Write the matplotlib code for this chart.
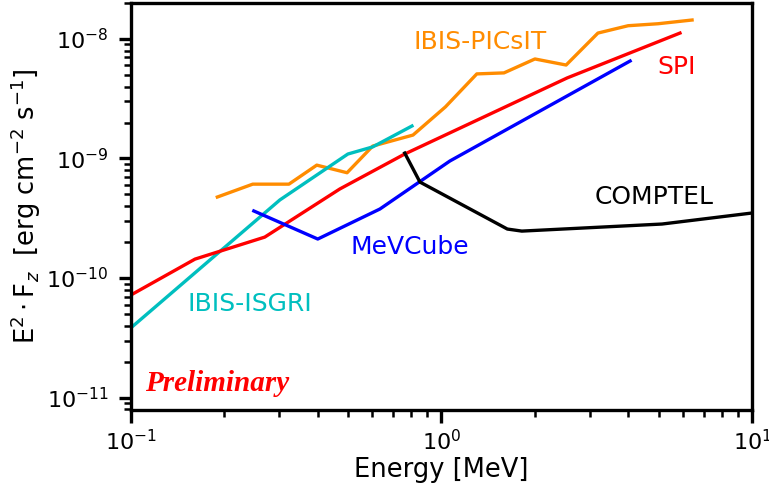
import matplotlib
matplotlib.use("Agg")
import matplotlib.pyplot as plt

# Sensitivity curves (energy in MeV, E^2 F in erg cm^-2 s^-1)
picsit_e = [0.19, 0.247, 0.323, 0.397, 0.497, 0.601, 0.81, 1.03, 1.30, 1.59, 2.0, 2.52, 3.19, 3.99, 4.98, 6.41]
picsit_f = [4.76e-10, 6.1e-10, 6.1e-10, 8.8e-10, 7.6e-10, 1.27e-9, 1.57e-9, 2.7e-9, 5.1e-9, 5.2e-9,
            6.8e-9, 6.05e-9, 1.12e-8, 1.29e-8, 1.34e-8, 1.44e-8]

isgri_e = [0.1, 0.302, 0.50, 0.601, 0.804]
isgri_f = [3.82e-11, 4.5e-10, 1.09e-9, 1.25e-9, 1.87e-9]

spi_e = [0.1, 0.161, 0.270, 0.471, 0.762, 2.54, 5.86]
spi_f = [7.2e-11, 1.44e-10, 2.2e-10, 5.56e-10, 1.09e-9, 4.72e-9, 1.12e-8]

mevcube_e = [0.249, 0.400, 0.634, 1.065, 4.05]
mevcube_f = [3.64e-10, 2.12e-10, 3.78e-10, 9.53e-10, 6.54e-9]

comptel_e = [0.762, 0.853, 1.63, 1.815, 5.13, 10.0]
comptel_f = [1.11e-9, 6.35e-10, 2.57e-10, 2.47e-10, 2.83e-10, 3.50e-10]

lw = 2.4
fs = 18

fig = plt.figure(figsize=(7.69, 4.92), dpi=100)
ax = fig.add_axes([0.170, 0.167, 0.808, 0.827])

ax.plot(picsit_e, picsit_f, color="darkorange", lw=lw)
ax.plot(isgri_e, isgri_f, color="c", lw=lw)
ax.plot(spi_e, spi_f, color="red", lw=lw)
ax.plot(mevcube_e, mevcube_f, color="blue", lw=lw)
ax.plot(comptel_e, comptel_f, color="black", lw=lw)

ax.set_xscale("log")
ax.set_yscale("log")
ax.set_xlim(0.1, 10)
ax.set_ylim(7.9e-12, 2.0e-8)

# curve labels
ax.text(1.33, 9.4e-9, "IBIS-PICsIT", color="darkorange", fontsize=fs, ha="center", va="center")
ax.text(5.73, 5.83e-9, "SPI", color="red", fontsize=fs, ha="center", va="center")
ax.text(4.83, 4.76e-10, "COMPTEL", color="black", fontsize=fs, ha="center", va="center")
ax.text(0.792, 1.82e-10, "MeVCube", color="blue", fontsize=fs, ha="center", va="center")
ax.text(0.241, 6.05e-11, "IBIS-ISGRI", color="c", fontsize=fs, ha="center", va="center")
ax.text(0.1115, 1.30e-11, "Preliminary", color="red", fontsize=21, ha="left", va="center",
        family="Liberation Serif", weight="bold", style="italic")

ax.set_xlabel("Energy [MeV]", fontsize=18.5)
ax.set_ylabel(r"E$^2\cdot$F$_z$  [erg cm$^{-2}$ s$^{-1}$]", fontsize=18.5)
ax.xaxis.set_label_coords(0.5, -0.115)
ax.yaxis.set_label_coords(-0.141, 0.5)

for s in ax.spines.values():
    s.set_linewidth(2.4)
ax.tick_params(which="major", length=9, width=2.4, labelsize=16, direction="out")
ax.tick_params(which="minor", length=4.8, width=1.8, direction="out")
ax.tick_params(axis="x", pad=5)
ax.tick_params(axis="y", pad=7)

fig.savefig("out.png", dpi=100)
